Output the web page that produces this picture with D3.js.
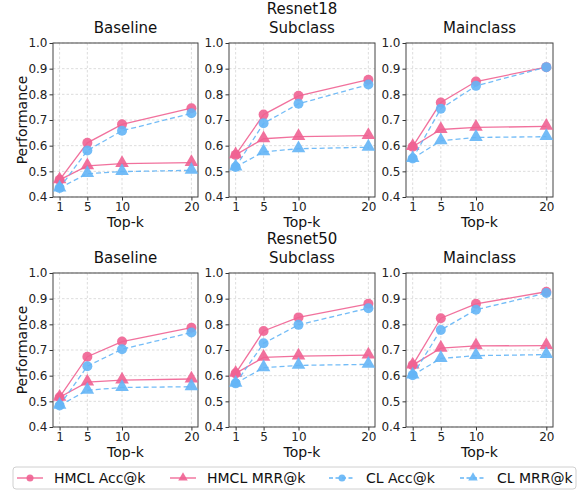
<!DOCTYPE html>
<html><head><meta charset="utf-8">
<script src="https://cdn.jsdelivr.net/npm/d3@7"></script>
<style>body{margin:0;background:#fff;}svg{font-family:"DejaVu Sans",sans-serif;}</style>
</head><body>
<svg id="c" width="580" height="490"></svg>
<script>
const topK = [1, 5, 10, 20];
const yTicks = [0.4, 0.5, 0.6, 0.7, 0.8, 0.9, 1.0];
const models = ["Resnet18", "Resnet50"];
const panels = ["Baseline", "Subclass", "Mainclass"];
const seriesNames = ["HMCL Acc@k", "HMCL MRR@k", "CL Acc@k", "CL MRR@k"];

// Resnet18
const r18_base_hmclAcc = [0.467, 0.611, 0.683, 0.746];
const r18_base_hmclMrr = [0.467, 0.521, 0.530, 0.534];
const r18_base_clAcc   = [0.435, 0.581, 0.658, 0.726];
const r18_base_clMrr   = [0.435, 0.491, 0.499, 0.504];
const r18_sub_hmclAcc  = [0.564, 0.721, 0.794, 0.857];
const r18_sub_hmclMrr  = [0.564, 0.627, 0.635, 0.639];
const r18_sub_clAcc    = [0.517, 0.687, 0.763, 0.838];
const r18_sub_clMrr    = [0.517, 0.576, 0.588, 0.594];
const r18_main_hmclAcc = [0.596, 0.768, 0.850, 0.906];
const r18_main_hmclMrr = [0.596, 0.663, 0.671, 0.675];
const r18_main_clAcc   = [0.550, 0.744, 0.833, 0.906];
const r18_main_clMrr   = [0.550, 0.619, 0.632, 0.635];
// Resnet50
const r50_base_hmclAcc = [0.516, 0.674, 0.733, 0.787];
const r50_base_hmclMrr = [0.516, 0.575, 0.583, 0.587];
const r50_base_clAcc   = [0.484, 0.637, 0.703, 0.768];
const r50_base_clMrr   = [0.484, 0.543, 0.554, 0.557];
const r50_sub_hmclAcc  = [0.609, 0.774, 0.827, 0.880];
const r50_sub_hmclMrr  = [0.609, 0.671, 0.676, 0.680];
const r50_sub_clAcc    = [0.570, 0.726, 0.798, 0.863];
const r50_sub_clMrr    = [0.570, 0.631, 0.640, 0.644];
const r50_main_hmclAcc = [0.641, 0.824, 0.880, 0.927];
const r50_main_hmclMrr = [0.641, 0.707, 0.716, 0.717];
const r50_main_clAcc   = [0.602, 0.778, 0.857, 0.922];
const r50_main_clMrr   = [0.602, 0.667, 0.678, 0.682];

const data = [
  [[r18_base_hmclAcc, r18_base_hmclMrr, r18_base_clAcc, r18_base_clMrr],
   [r18_sub_hmclAcc, r18_sub_hmclMrr, r18_sub_clAcc, r18_sub_clMrr],
   [r18_main_hmclAcc, r18_main_hmclMrr, r18_main_clAcc, r18_main_clMrr]],
  [[r50_base_hmclAcc, r50_base_hmclMrr, r50_base_clAcc, r50_base_clMrr],
   [r50_sub_hmclAcc, r50_sub_hmclMrr, r50_sub_clAcc, r50_sub_clMrr],
   [r50_main_hmclAcc, r50_main_hmclMrr, r50_main_clAcc, r50_main_clMrr]]
];

const PINK = "#F06292", BLUE = "#64B5F6";
const styles = [
  {color: PINK, dash: null, marker: "circle"},
  {color: PINK, dash: null, marker: "triangle"},
  {color: BLUE, dash: "5,3", marker: "circle"},
  {color: BLUE, dash: "5,3", marker: "triangle"}
];

const svg = d3.select("#c");
const colX = [[53, 198], [229, 375], [406, 553]];
const rowY = [[43, 197], [273, 427]];
const titleY = [33, 263];
const modelY = [14, 244];

function marker(g, type, x, y, color, r) {
  if (type === "circle") {
    g.append("circle").attr("cx", x).attr("cy", y).attr("r", r).attr("fill", color).attr("fill-opacity", 0.9);
  } else {
    const sym = d3.symbol().type(d3.symbolTriangle).size(r * r * 3.2);
    g.append("path").attr("d", sym()).attr("transform", `translate(${x},${y - r*0.1})`).attr("fill", color).attr("fill-opacity", 0.9);
  }
}

models.forEach((m, ri) => {
  const [y0, y1] = rowY[ri];
  const y = d3.scaleLinear().domain([0.4, 1.0]).range([y1, y0]);
  panels.forEach((p, ci) => {
    const [x0, x1] = colX[ci];
    const x = d3.scaleLinear().domain([1 - 0.95, 20 + 0.95]).range([x0, x1]);
    const g = svg.append("g");
    // grid
    g.selectAll(".gx").data(topK).enter().append("line")
      .attr("x1", d => x(d)).attr("x2", d => x(d)).attr("y1", y0).attr("y2", y1)
      .attr("stroke", "#cfcfcf").attr("stroke-width", 0.7).attr("stroke-dasharray", "2.5,2");
    g.selectAll(".gy").data(yTicks).enter().append("line")
      .attr("x1", x0).attr("x2", x1).attr("y1", d => y(d)).attr("y2", d => y(d))
      .attr("stroke", "#cfcfcf").attr("stroke-width", 0.7).attr("stroke-dasharray", "2.5,2");
    // axes
    const ax = g.append("g").attr("transform", `translate(0,${y1})`)
      .call(d3.axisBottom(x).tickValues(topK).tickSize(3.5).tickPadding(2).tickFormat(d3.format("d")));
    const ay = g.append("g").attr("transform", `translate(${x0},0)`)
      .call(d3.axisLeft(y).tickValues(yTicks).tickSize(3.5).tickPadding(2).tickFormat(d3.format(".1f")));
    [ax, ay].forEach(a => {
      a.select(".domain").remove();
      a.selectAll("line").attr("stroke", "#333");
      a.selectAll("text").attr("font-size", 12).attr("fill", "#222").attr("font-family", "DejaVu Sans");
    });
    g.append("rect").attr("x", x0).attr("y", y0).attr("width", x1 - x0).attr("height", y1 - y0)
      .attr("fill", "none").attr("stroke", "#444").attr("stroke-width", 1);
    // series
    data[ri][ci].forEach((vals, si) => {
      const st = styles[si];
      const line = d3.line().x((d, i) => x(topK[i])).y(d => y(d));
      g.append("path").datum(vals).attr("d", line).attr("fill", "none")
        .attr("stroke", st.color).attr("stroke-width", 1.3).attr("stroke-opacity", 0.9)
        .attr("stroke-dasharray", st.dash);
      vals.forEach((v, i) => marker(g, st.marker, x(topK[i]), y(v), st.color, 5));
    });
    // titles
    svg.append("text").attr("x", (x0 + x1) / 2).attr("y", titleY[ri]).attr("text-anchor", "middle")
      .attr("font-size", 15).attr("fill", "#111").text(p);
    svg.append("text").attr("x", (x0 + x1) / 2).attr("y", y1 + 30).attr("text-anchor", "middle")
      .attr("font-size", 14).attr("fill", "#111").text("Top-k");
    if (ci === 0) {
      svg.append("text").attr("transform", `translate(27,${(y0 + y1) / 2}) rotate(-90)`)
        .attr("text-anchor", "middle").attr("font-size", 14).attr("fill", "#111").text("Performance");
    }
  });
  svg.append("text").attr("x", (colX[1][0] + colX[1][1]) / 2).attr("y", modelY[ri]).attr("text-anchor", "middle")
    .attr("font-size", 15).attr("fill", "#111").text(m);
});

// legend
const lg = svg.append("g");
lg.append("rect").attr("x", 13).attr("y", 467).attr("width", 563).attr("height", 22).attr("rx", 3)
  .attr("fill", "#fff").attr("stroke", "#d0d0d0").attr("stroke-width", 1);
const legX = [17, 170, 329, 460];
seriesNames.forEach((n, i) => {
  const st = styles[i];
  const lx = legX[i], ly = 478;
  lg.append("line").attr("x1", lx).attr("x2", lx + 26).attr("y1", ly).attr("y2", ly)
    .attr("stroke", st.color).attr("stroke-width", 1.3).attr("stroke-dasharray", st.dash ? "4,2.5" : null);
  marker(lg, st.marker, lx + 13, ly, st.color, 3.5);
  lg.append("text").attr("x", lx + 37).attr("y", ly + 5).attr("font-size", 14).attr("fill", "#111").text(n);
});
</script>
</body></html>
